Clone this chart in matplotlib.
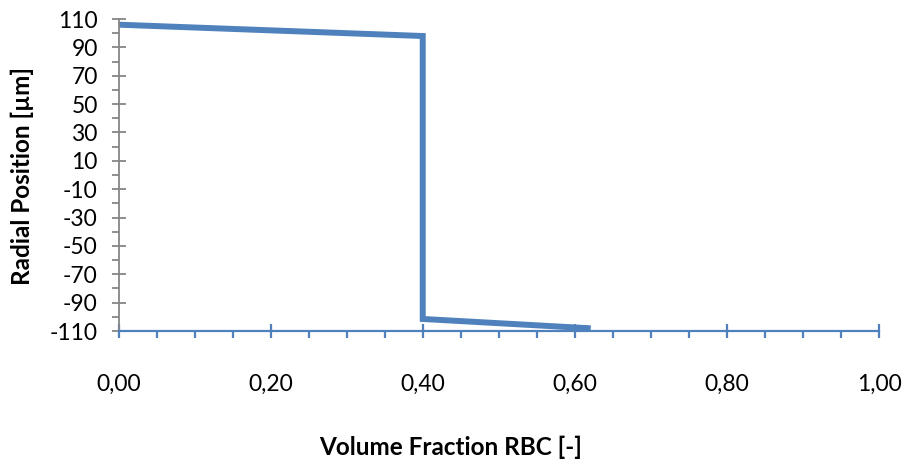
import numpy as np
import matplotlib.pyplot as plt
from matplotlib.ticker import MultipleLocator, FuncFormatter

# data
vol_fraction = [0.0, 0.40, 0.40, 0.617]
radial_pos = [106, 98, -101.5, -108]

x_ticks = np.arange(0, 1.01, 0.2)
y_ticks = np.arange(-110, 111, 20)

line_col = '#4f81bd'
grey = '#868686'

plt.rcParams['font.family'] = ['Lato', 'DejaVu Sans']
plt.rcParams['axes.unicode_minus'] = False

fig = plt.figure(figsize=(9.09, 4.68), dpi=100)
ax = fig.add_axes([0.1304, 0.2927, 0.8366, 0.6667])

ax.plot(vol_fraction, radial_pos, color=line_col, lw=4.3, solid_joinstyle='miter')

ax.set_xlim(0, 1.0)
ax.set_ylim(-110, 110)
ax.set_xticks(x_ticks)
ax.set_yticks(y_ticks)
ax.xaxis.set_minor_locator(MultipleLocator(0.05))
ax.yaxis.set_minor_locator(MultipleLocator(10))
ax.xaxis.set_major_formatter(FuncFormatter(lambda v, p: f'{v:.2f}'.replace('.', ',')))

for s in ['top', 'right']:
    ax.spines[s].set_visible(False)
ax.spines['left'].set_color(grey)
ax.spines['left'].set_linewidth(1.3)
ax.spines['bottom'].set_color(line_col)
ax.spines['bottom'].set_linewidth(1.6)

ax.tick_params(axis='y', which='major', direction='inout', length=10, width=1.3,
               color=grey, labelsize=16.5, pad=10)
ax.tick_params(axis='y', which='minor', direction='out', length=5, width=1.3, color=grey)
ax.tick_params(axis='x', which='major', direction='inout', length=10, width=1.6,
               color=line_col, labelsize=16.5, pad=26)
ax.tick_params(axis='x', which='minor', direction='out', length=5, width=1.6, color=line_col)

fig.text(0.496, 0.045, 'Volume Fraction RBC [-]', ha='center', va='center',
         fontsize=17.5, fontweight='bold')
fig.text(0.025, 0.624, 'Radial Position [µm]', ha='center', va='center',
         rotation=90, fontsize=17.5, fontweight='bold')

fig.savefig('out.png', dpi=100)
